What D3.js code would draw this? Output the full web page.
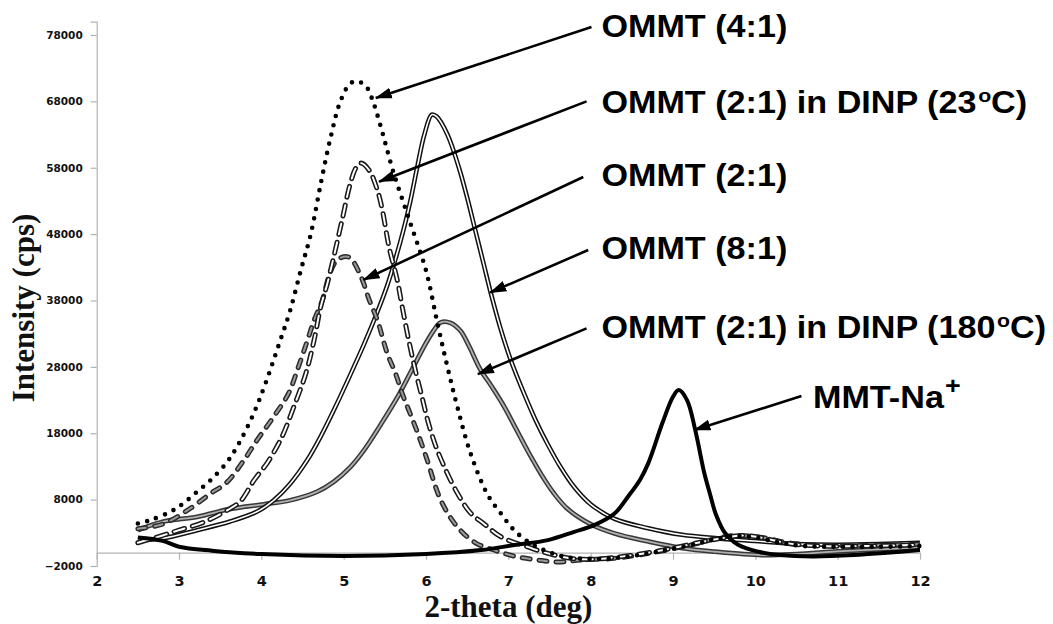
<!DOCTYPE html>
<html>
<head>
<meta charset="utf-8">
<script src="https://cdn.jsdelivr.net/npm/d3@7"></script>
<style>
  body { margin: 0; background: #fff; }
  svg { display: block; }
  .yAxis text { font-family: "DejaVu Sans", sans-serif; font-weight: bold; font-size: 10.5px; fill: #111; }
  .xAxis text { font-family: "DejaVu Sans", sans-serif; font-weight: bold; font-size: 14.5px; fill: #111; }
  .axisTitle { font-family: "Liberation Serif", "Times New Roman", serif; font-weight: bold; font-size: 31px; fill: #111; }
  .note { font-family: "Liberation Sans", Arial, sans-serif; font-weight: bold; font-size: 30.5px; fill: #000; }
</style>
</head>
<body>
<svg id="chart" width="1053" height="624"></svg>
<script>
// ---- data: [2-theta (deg), intensity (cps)] ----
var ommt41 = [
  [2.5,4400],[2.65,4900],[2.9,6200],[3.05,7400],[3.22,9200],[3.38,10900],[3.58,13600],
  [3.72,16300],[3.9,20800],[4.05,25500],[4.23,32000],[4.35,36500],[4.48,42600],[4.6,48000],
  [4.72,55500],[4.84,62500],[4.96,68000],[5.08,70700],[5.17,71000],[5.27,70300],[5.35,68200],
  [5.45,64200],[5.6,57500],[5.8,50000],[6.0,42500],[6.14,34500],[6.26,28000],[6.38,22000],
  [6.54,15000],[6.75,8700],[6.91,5900],[7.07,3400],[7.27,1400],[7.48,150],[7.68,-600],
  [7.9,-900],[8.3,-800],[8.7,-100],[9.0,600],[9.3,1400],[9.5,2000],[9.75,2500],[10.0,2300],
  [10.3,1500],[10.6,1000],[11.0,900],[11.5,900],[12.0,1000]
];
var ommt21dinp23 = [
  [2.5,1500],[2.8,2600],[3.0,3400],[3.3,4600],[3.6,6500],[3.75,7800],[3.91,10900],[4.07,13500],
  [4.19,16000],[4.27,18000],[4.41,22500],[4.54,27000],[4.64,32000],[4.72,37000],[4.8,40500],
  [4.88,44600],[4.98,50100],[5.08,55600],[5.15,58000],[5.21,58700],[5.31,57600],[5.41,54600],
  [5.47,51600],[5.55,46100],[5.65,41100],[5.71,37100],[5.79,32000],[5.87,27500],[5.95,23500],
  [6.03,19500],[6.12,16000],[6.22,13000],[6.38,9000],[6.54,6000],[6.71,4300],[6.91,2400],
  [7.23,900],[7.48,-100],[7.76,-850],[8.0,-1000],[8.3,-700],[8.7,0],[9.0,700],[9.3,1500],
  [9.6,2200],[9.85,2600],[10.1,2200],[10.4,1400],[10.8,1000],[11.3,1000],[12.0,1200]
];
var ommt21 = [
  [2.5,3600],[2.8,4300],[3.14,6700],[3.38,8900],[3.58,10600],[3.78,13800],[3.95,17000],
  [4.15,20500],[4.33,24000],[4.45,28000],[4.56,32000],[4.64,35000],[4.74,38000],[4.82,41600],
  [4.9,43800],[5.0,44600],[5.08,44400],[5.21,41600],[5.31,38100],[5.41,35000],[5.53,30000],
  [5.63,27000],[5.71,24000],[5.79,21500],[5.9,18000],[6.0,14500],[6.18,7900],[6.38,3900],
  [6.6,1500],[6.85,300],[7.1,-600],[7.36,-1100],[7.6,-1400],[7.88,-1100],[8.29,-850],
  [8.7,-100],[9.02,660],[9.3,1400],[9.51,2100],[9.75,2600],[10.08,2300],[10.4,1500],
  [10.8,1100],[11.4,1100],[12.0,1300]
];
var ommt81 = [
  [2.5,1900],[2.81,2200],[3.22,3400],[3.62,4700],[3.95,6200],[4.15,7900],[4.35,10400],
  [4.56,14000],[4.72,17500],[4.9,22000],[5.08,26800],[5.25,31500],[5.41,36300],[5.53,40300],
  [5.63,44300],[5.73,48800],[5.81,53000],[5.9,58500],[5.98,63000],[6.07,66000],[6.13,65700],
  [6.26,63000],[6.4,58000],[6.5,53500],[6.6,48500],[6.7,43500],[6.8,38500],[6.9,34000],
  [7.03,29000],[7.19,24000],[7.33,20000],[7.48,16300],[7.63,13000],[7.8,9900],[8.0,7300],
  [8.29,5100],[8.7,3700],[9.11,2700],[9.51,2200],[10.08,1700],[10.5,1300],[11.0,1200],
  [11.5,1300],[12.0,1500]
];
var ommt21dinp180 = [
  [2.5,3400],[2.81,4700],[3.22,5400],[3.62,6600],[4.03,7300],[4.35,7900],[4.68,9200],
  [4.88,10700],[5.08,12900],[5.25,15500],[5.45,19300],[5.67,23800],[5.88,28800],[6.0,31600],
  [6.1,33600],[6.18,34700],[6.3,34600],[6.42,33400],[6.52,31200],[6.66,27600],[6.8,25000],
  [6.95,22000],[7.1,18500],[7.25,15000],[7.4,11800],[7.55,9000],[7.72,6600],[8.0,4300],
  [8.29,2900],[8.7,1700],[9.11,700],[9.51,150],[10.08,-350],[10.5,-200],[11.0,200],
  [11.5,500],[12.0,800]
];
var mmtNa = [
  [2.5,2300],[2.8,1800],[3.0,900],[3.4,300],[4.0,-200],[5.0,-500],[6.0,-200],[6.67,400],
  [7.07,1150],[7.48,1900],[7.8,3150],[8.05,4200],[8.29,5900],[8.45,8400],[8.6,11000],
  [8.7,13500],[8.87,19500],[9.0,23500],[9.07,24500],[9.17,23000],[9.27,18500],[9.38,12000],
  [9.45,8800],[9.52,5800],[9.63,3000],[9.79,1200],[10.04,150],[10.3,-350],[10.7,-550],
  [11.2,-350],[11.6,0],[12.0,400]
];

var xTicks = d3.range(2, 13, 1);
var yTicks = d3.range(-2000, 80000, 10000);

// labels: text, where the text starts, where the arrow leaves, where it points (data units)
var noteText = ["OMMT (4:1)", "OMMT (2:1) in DINP (23|C)", "OMMT (2:1)", "OMMT (8:1)",
                "OMMT (2:1) in DINP (180|C)", "MMT-Na^"];
var noteAt   = [[8.13,77700],[8.13,66200],[8.13,55200],[8.13,44200],[8.13,32400],[10.70,21800]];
var arrowFrom = [[8.01,79200],[7.95,68000],[7.91,56600],[7.97,45600],[7.95,33800],[10.56,23600]];
var arrowTo   = [[5.39,68500],[5.43,55900],[5.24,41100],[6.78,39200],[6.63,26900],[9.26,18500]];

// ---- chart ----
var svg = d3.select("#chart");

var xScale = d3.scaleLinear().domain([2, 12]).range([96.7, 920]);
var yScale = d3.scaleLinear().domain([-2000, 80000]).range([566, 21.7]);

var line = d3.line()
  .x(function(d){ return xScale(d[0]); })
  .y(function(d){ return yScale(d[1]); })
  .curve(d3.curveCatmullRom.alpha(0.5));

// axes
var yAxisGroup = svg.append("g")
  .attr("class", "yAxis")
  .attr("transform", "translate(" + xScale(2) + ",0)")
  .call(d3.axisLeft(yScale).tickValues(yTicks).tickSize(6).tickPadding(8).tickFormat(d3.format("d")));
yAxisGroup.selectAll("path, line").attr("stroke", "#b3b3b3").attr("stroke-width", 1.2);

var xAxisGroup = svg.append("g")
  .attr("class", "xAxis")
  .attr("transform", "translate(0," + yScale(0) + ")")
  .call(d3.axisBottom(xScale).tickValues(xTicks).tickSize(7).tickSizeOuter(0).tickFormat(d3.format("d")));
xAxisGroup.selectAll("path, line").attr("stroke", "#b3b3b3").attr("stroke-width", 1.2);
xAxisGroup.selectAll("text").attr("y", yScale(-2000) - yScale(0) + 20.5).attr("dy", 0);

// series, back to front
function drawSeries(data, layers){
  layers.forEach(function(s){
    svg.append("path")
      .datum(data)
      .attr("fill", "none")
      .attr("stroke", s.color)
      .attr("stroke-width", s.width)
      .attr("stroke-dasharray", s.dash || null)
      .attr("stroke-linecap", s.cap || "butt")
      .attr("stroke-linejoin", "round")
      .attr("d", line);
  });
}

drawSeries(ommt21dinp180, [{color:"#383838", width:4.8}, {color:"#b0b0b0", width:1.8}]);
drawSeries(ommt81, [{color:"#111", width:4.6}, {color:"#fff", width:1.6}]);
drawSeries(ommt21, [{color:"#2a2a2a", width:5, dash:"8 9", cap:"round"},
                    {color:"#999", width:2, dash:"8 9", cap:"round"}]);
drawSeries(ommt21dinp23, [{color:"#1a1a1a", width:5, dash:"11 8", cap:"round"},
                          {color:"#fff", width:1.9, dash:"11 8", cap:"round"}]);
drawSeries(ommt41, [{color:"#000", width:4.6, dash:"0 9.5", cap:"round"}]);
drawSeries(mmtNa, [{color:"#000", width:4}]);

// axis titles
svg.append("text")
  .attr("class", "axisTitle")
  .attr("transform", "translate(34,308) rotate(-90)")
  .attr("text-anchor", "middle")
  .text("Intensity (cps)");

svg.append("text")
  .attr("class", "axisTitle")
  .attr("x", (xScale(2) + xScale(12)) / 2)
  .attr("y", 617)
  .attr("text-anchor", "middle")
  .text("2-theta (deg)");

// arrows
svg.append("defs").append("marker")
  .attr("id", "head")
  .attr("viewBox", "0 -6 17 12")
  .attr("refX", 16)
  .attr("refY", 0)
  .attr("markerWidth", 17)
  .attr("markerHeight", 12)
  .attr("markerUnits", "userSpaceOnUse")
  .attr("orient", "auto")
  .append("path")
  .attr("d", "M0,-5.5L17,0L0,5.5Z")
  .attr("fill", "#000");

arrowFrom.forEach(function(a, i){
  svg.append("line")
    .attr("x1", xScale(a[0])).attr("y1", yScale(a[1]))
    .attr("x2", xScale(arrowTo[i][0])).attr("y2", yScale(arrowTo[i][1]))
    .attr("stroke", "#000")
    .attr("stroke-width", 2.6)
    .attr("marker-end", "url(#head)");
});

// labels ("|" = superscript o, "^" = superscript +)
noteText.forEach(function(t, i){
  var txt = svg.append("text")
    .attr("class", "note")
    .attr("transform", "translate(" + xScale(noteAt[i][0]) + "," + yScale(noteAt[i][1]) + ") scale(1.12,1)");
  var parts = t.split(/([|^])/);
  var back = 0;
  parts.forEach(function(p){
    if (p === "|") {
      txt.append("tspan").attr("font-size", "19px").attr("dy", -11).attr("dx", 1.5).text("o");
      back = 11;
    } else if (p === "^") {
      txt.append("tspan").attr("font-size", "24px").attr("dy", -14).attr("dx", 1).text("+");
    } else if (p.length) {
      txt.append("tspan").attr("dy", back).text(p);
      back = 0;
    }
  });
});
</script>
</body>
</html>
